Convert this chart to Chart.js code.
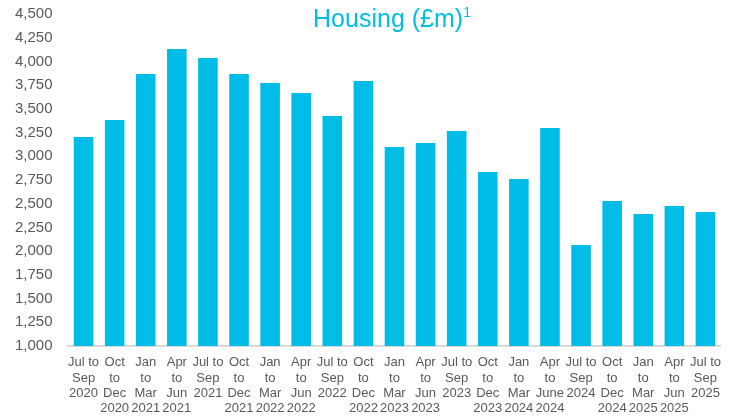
<!DOCTYPE html>
<html>
<head>
<meta charset="utf-8">
<script src="https://cdn.jsdelivr.net/npm/chart.js@4"></script>
<style>
  body { margin: 0; background: #fff; }
  #wrap { position: relative; width: 730px; height: 419px; }
  #title {
    position: absolute; left: 242px; top: 4px; width: 300px;
    text-align: center; color: #00BDE7;
    font-family: "Liberation Sans", Arial, sans-serif; font-size: 25px;
  }
  #title sup { font-size: 14px; vertical-align: 10px; }
</style>
</head>
<body>
<div id="wrap">
  <canvas id="chart" width="730" height="419"></canvas>
  <div id="title">Housing (£m)<sup>1</sup></div>
</div>
<script>
// quarter labels, as they wrap under each bar
let quarters = [
  ["Jul to", "Sep", "2020"], ["Oct", "to", "Dec", "2020"], ["Jan", "to", "Mar", "2021"],
  ["Apr", "to", "Jun", "2021"], ["Jul to", "Sep", "2021"], ["Oct", "to", "Dec", "2021"],
  ["Jan", "to", "Mar", "2022"], ["Apr", "to", "Jun", "2022"], ["Jul to", "Sep", "2022"],
  ["Oct", "to", "Dec", "2022"], ["Jan", "to", "Mar", "2023"], ["Apr", "to", "Jun", "2023"],
  ["Jul to", "Sep", "2023"], ["Oct", "to", "Dec", "2023"], ["Jan", "to", "Mar", "2024"],
  ["Apr", "to", "June", "2024"], ["Jul to", "Sep", "2024"], ["Oct", "to", "Dec", "2024"],
  ["Jan", "to", "Mar", "2025"], ["Apr", "to", "Jun", "2025"], ["Jul to", "Sep", "2025"]
];

// housing, £m
let housing = [
  3203, 3383, 3868, 4131, 4036, 3868, 3773, 3667, 3425, 3794, 3098,
  3140, 3267, 2835, 2761, 3298, 2065, 2529, 2392, 2476, 2413
];

let yMin = 1000;
let yMax = 4500;
let yStep = 250;

let barColor = "#00BDE7";
let textColor = "#595959";
let axisColor = "#D9D9D9";

// tick padding on the y axis also pads the top of the plot,
// so labels sit at the scale's left edge instead
new Chart(document.getElementById("chart"), {
  type: "bar",
  data: {
    labels: quarters,
    datasets: [{
      data: housing,
      backgroundColor: barColor,
      barPercentage: 0.63,
      categoryPercentage: 1
    }]
  },
  options: {
    responsive: false,
    devicePixelRatio: 1,
    animation: false,
    layout: { padding: { top: 14, left: 15, right: 1, bottom: 0 } },
    plugins: { legend: { display: false }, tooltip: { enabled: false } },
    scales: {
      x: {
        grid: { display: false, drawTicks: false },
        border: { display: true, color: axisColor, width: 2 },
        ticks: {
          color: textColor,
          font: { family: "'Liberation Sans', Arial, sans-serif", size: 13, lineHeight: 1.18 },
          padding: 9,
          maxRotation: 0,
          autoSkip: false
        },
        afterFit: s => { s.height = 73; }
      },
      y: {
        min: yMin,
        max: yMax,
        grid: { display: false, drawTicks: false },
        border: { display: false },
        ticks: {
          stepSize: yStep,
          color: textColor,
          font: { family: "'Liberation Sans', Arial, sans-serif", size: 15 },
          padding: 0,
          crossAlign: "far",
          callback: v => v.toLocaleString("en-GB")
        },
        afterFit: s => { s.width = 53; }
      }
    }
  }
});
</script>
</body>
</html>
